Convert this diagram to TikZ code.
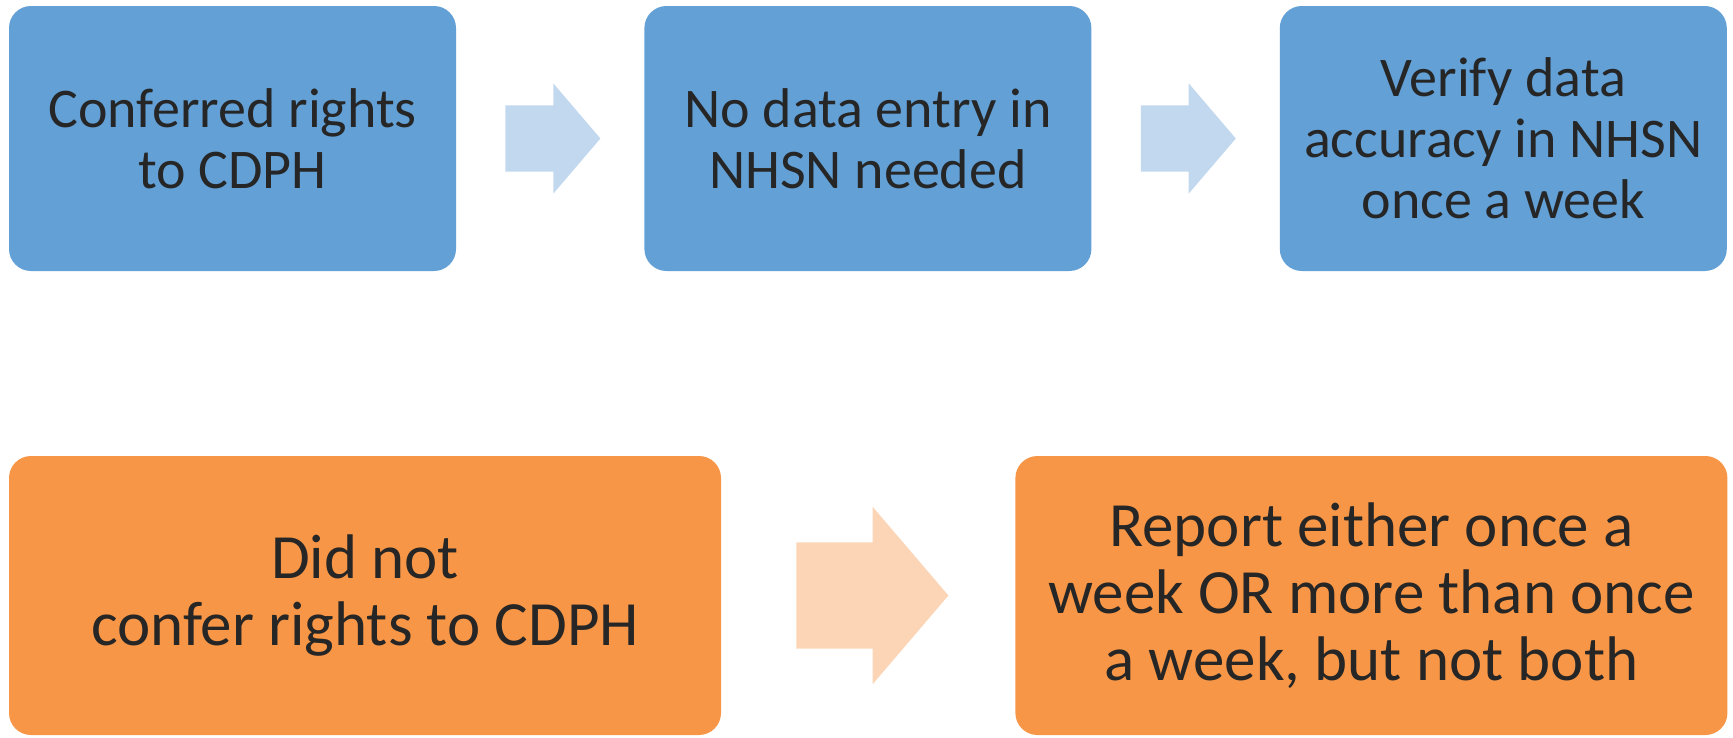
\documentclass[tikz,border=0pt]{standalone}
\usepackage{fontspec}
\setmainfont{Carlito}
\usepackage{xcolor}
\usetikzlibrary{shapes.arrows, positioning, calc}

\definecolor{boxblue}{RGB}{98,160,214}
\definecolor{arrowblue}{RGB}{193,216,238}
\definecolor{boxorange}{RGB}{247,150,70}
\definecolor{arroworange}{RGB}{251,213,181}
\definecolor{textgray}{RGB}{38,38,38}

\begin{document}
\begin{tikzpicture}[
    x=1pt, y=-1pt,
    node distance=188pt,
    topbox/.style={rectangle, rounded corners=22pt, fill=boxblue, minimum width=447pt, minimum height=265pt, align=center, text=textgray, font=\fontsize{56}{61}\selectfont},
    lowbox/.style={rectangle, rounded corners=22pt, fill=boxorange, minimum width=712pt, minimum height=279pt, align=center, text=textgray, font=\fontsize{63}{67}\selectfont},
    toparrow/.style={single arrow, fill=arrowblue, inner xsep=0pt, inner ysep=33pt, minimum height=95pt, single arrow head extend=22pt, single arrow tip angle=99},
    lowarrow/.style={single arrow, fill=arroworange, inner xsep=0pt, inner ysep=53pt, minimum height=152pt, single arrow head extend=35.5pt, single arrow tip angle=99}
]
\useasboundingbox (0,0) rectangle (1733,737);

\node[topbox] (conferred) at (232.5,138.5) {Conferred rights\\to CDPH};
\node[topbox, right=of conferred] (noentry) {No data entry in\\NHSN needed};
\node[topbox, right=of noentry] (verify) {Verify data\\accuracy in NHSN\\once a week};

\node[lowbox] (notconfer) at (365,595.5) {Did not\\confer rights to CDPH};
\node[lowbox, right=294pt of notconfer] (report) {Report either once a\\week OR more than once\\a week, but not both};

\node[toparrow, right=49pt of conferred] (arrowa) {};
\node[toparrow, right=49pt of noentry] (arrowb) {};
\node[lowarrow, right=75pt of notconfer] (arrowc) {};

\end{tikzpicture}
\end{document}
